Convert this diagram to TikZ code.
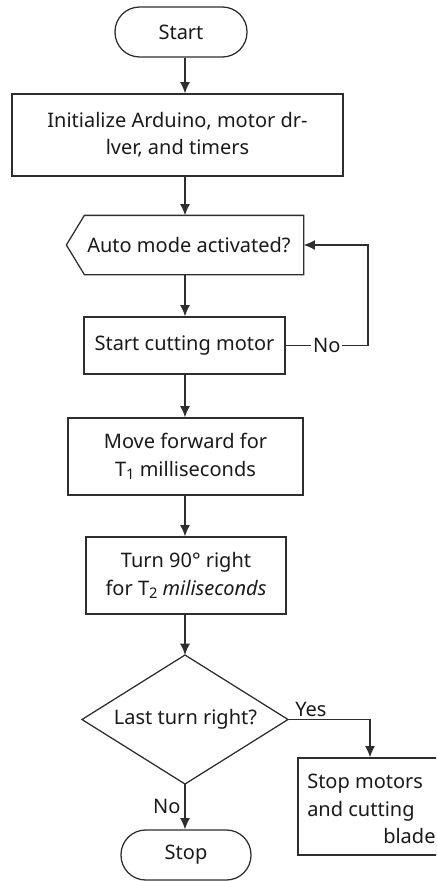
\documentclass[tikz,border=0pt]{standalone}
\usepackage{fontspec}
\setmainfont{Noto Sans}
\usetikzlibrary{arrows.meta,calc}
\definecolor{lc}{HTML}{2E2E2E}
\definecolor{tc}{HTML}{1A1A1A}
\newcommand{\sbs}[1]{\raisebox{-0.3ex}{\fontsize{11}{11}\selectfont #1}}
\tikzset{
 box/.style={draw=lc, line width=0.95pt, rectangle, align=center, inner sep=0pt, text=tc},
 term/.style={box, rounded corners=18.5pt},
 arr/.style={draw=lc, line width=0.95pt, -{Latex[length=8.5pt,width=7.5pt]}},
 ln/.style={draw=lc, line width=0.95pt},
 lbl/.style={text=tc, inner sep=1.5pt},
}
\begin{document}
\begin{tikzpicture}[x=0.75pt,y=-0.75pt, font=\fontsize{15}{20.5}\selectfont]
\useasboundingbox (0,0) rectangle (436,881);
\fill[white] (0,0) rectangle (436,881);
\clip (0,0) rectangle (436,881);
\coordinate (ax) at (185,0);
\coordinate (nc) at (368,0);
% nodes
\node[term, minimum width=99pt, minimum height=37.5pt] (start) at (181,32) {Start};
\node[box, minimum width=248.25pt, minimum height=61.5pt] (init) at (177.5,135) {Initialize Arduino, motor dr-\\lver, and timers};
\node[box, draw=none, minimum width=177pt, minimum height=43.5pt] (auto) at (185,245) {\hspace*{6pt}Auto mode activated?};
\draw[ln] ($(auto.north west)+(18,0)$) -- (auto.north east) -- (auto.south east) -- ($(auto.south west)+(18,0)$) -- (auto.west) -- cycle;
\node[box, minimum width=150.75pt, minimum height=42.75pt] (cut) at (184.5,345.5) {Start cutting motor};
\node[box, minimum width=176.25pt, minimum height=57.75pt] (move) at (185.5,456.5) {Move forward for\\T\sbs{1} milliseconds};
\node[box, minimum width=150pt, minimum height=57.75pt] (turn) at (186,575.5) {Turn 90° right\\for T\sbs{2} \textit{miliseconds}};
\node[text=tc, inner sep=0pt] (dec) at (185.5,719.5) {Last turn right?};
\coordinate (dtop) at (185,655);
\coordinate (dright) at (288,719.5);
\coordinate (dbottom) at (185,784);
\coordinate (dleft) at (82,719.5);
\draw[ln] (dtop) -- (dright) -- (dbottom) -- (dleft) -- cycle;
\node[box, minimum width=108pt, minimum height=72.75pt] (smb) at (370,806.5) {};
\node[text=tc, align=left, anchor=west, inner sep=0pt, font=\fontsize{15}{20.6}\selectfont] (smbt) at (307,809) {Stop motors\\and cutting\\\hspace*{57pt}blade};
\node[term, minimum width=97.5pt, minimum height=37.5pt] (stop) at (186,855) {Stop};
% connectors
\draw[arr] (start.south -| ax) -- (init.north -| ax);
\draw[arr] (init.south -| ax) -- (auto.north -| ax);
\draw[arr] (auto.south -| ax) -- (cut.north -| ax);
\draw[arr] (cut.east) -- node[lbl, fill=white] (nolbl) {No} (cut.east -| nc) |- (auto.east);
\draw[arr] (cut.south -| ax) -- (move.north -| ax);
\draw[arr] (move.south -| ax) -- (turn.north -| ax);
\draw[arr] (turn.south -| dtop) -- (dtop);
\draw[arr] (dright) -- node[lbl, above, pos=0.28] (yeslbl) {Yes} (dright -| smb.north) -- (smb.north);
\draw[arr] (dbottom) -- node[lbl, left, inner sep=3pt] (nolbl2) {No} (dbottom |- stop.north);
\end{tikzpicture}
\end{document}
